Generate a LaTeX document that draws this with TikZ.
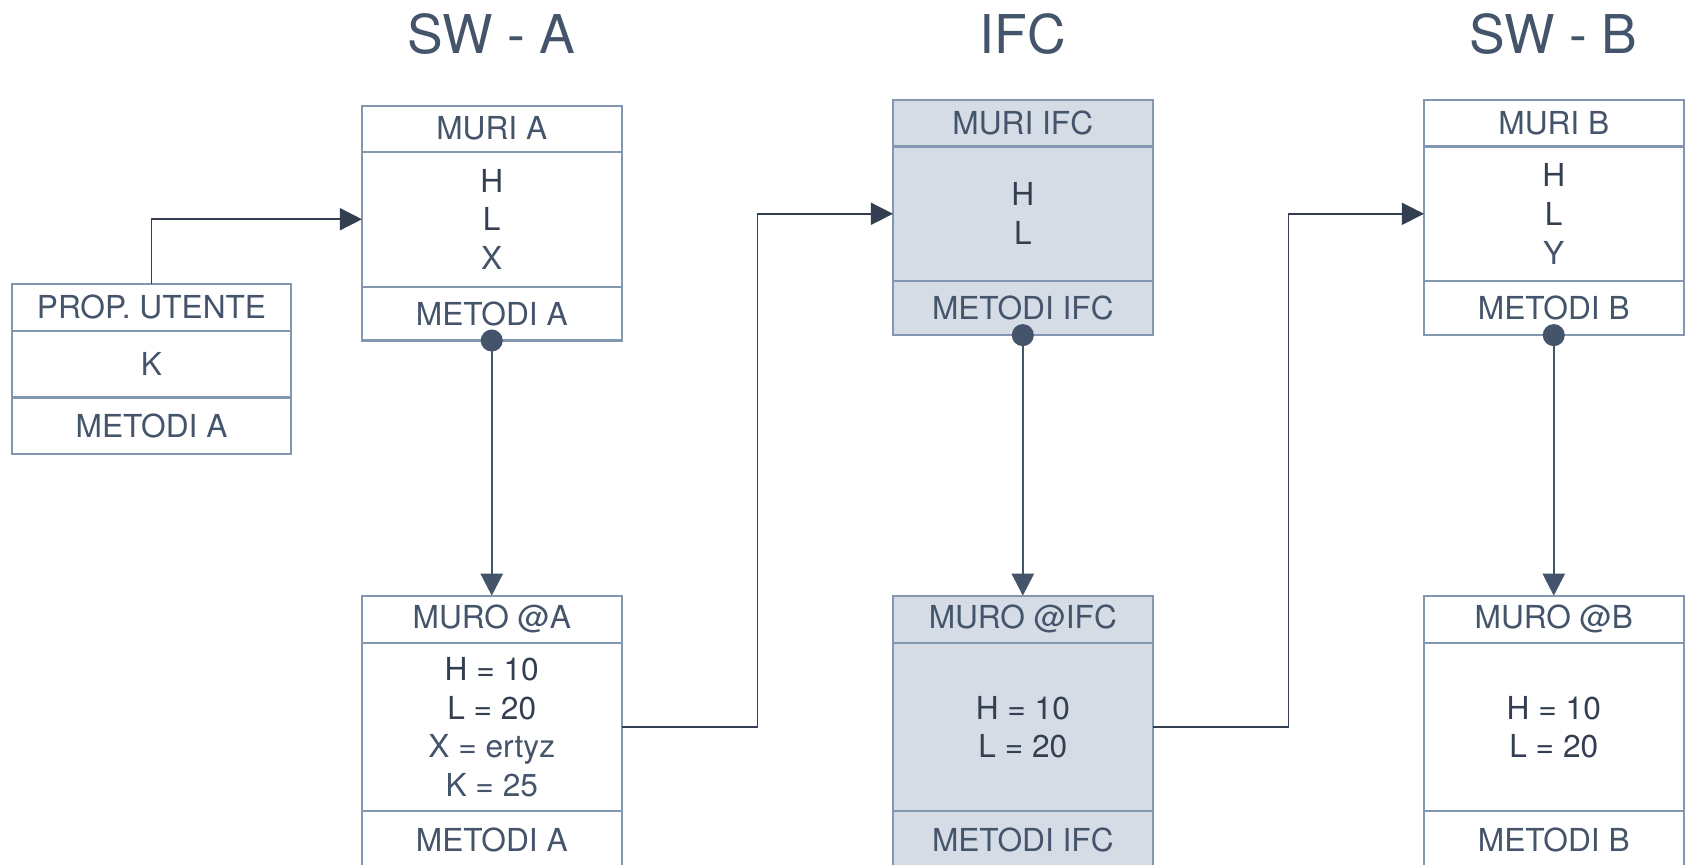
\documentclass[tikz,border=0pt]{standalone}
\usepackage{xcolor}
\usepackage{fontspec}
\setmainfont{TeX Gyre Heros}
\usepackage{tikz}
\usetikzlibrary{arrows.meta,positioning,calc}

\definecolor{boxline}{HTML}{8497B0}
\definecolor{ifcfill}{HTML}{D6DCE5}
\definecolor{txt}{HTML}{44546A}
\definecolor{txtdark}{HTML}{333F50}
\definecolor{wire}{HTML}{333F50}
\newcommand{\dk}[1]{{\color{txtdark}#1}}

\begin{document}
\begin{tikzpicture}[
  x=0.01cm, y=-0.01cm,
  >=Stealth,
  cell/.style={draw=boxline, line width=0.6pt, fill=#1,
               minimum width=2.595cm, inner sep=0pt, outer sep=0pt,
               align=center, text=txt, font=\fontsize{9}{11}\selectfont},
  title/.style={text=txt, font=\fontsize{15.2}{18}\selectfont},
  link/.style={-{Triangle[length=0.22cm,width=0.22cm]}, wire, line width=0.45pt},
  inst/.style={{Circle[length=0.22cm]}-{Triangle[length=0.22cm,width=0.22cm]},
               txt, line width=0.7pt, shorten <=-0.11cm},
]
\useasboundingbox[fill=white] (0,0) rectangle (1689,864);

%% ─── Column titles ────────────────────────────────────────────────────────────
\node[title] (swa) at (491.75,34.5) {SW - A};
\node[title] (ifc) at (1022.8,34.5) {IFC};
\node[title] (swb) at (1553.75,34.5) {SW - B};

%% ─── Classes ──────────────────────────────────────────────────────────────────
%% SW - A
\node[cell=white, minimum height=0.463cm] (muriA) at (491.75,128.75) {MURI A};
\node[cell=white, minimum height=1.346cm, below=0pt of muriA] (muriAatt)
  {\dk{H}\\\dk{L}\\X};
\node[cell=white, minimum height=0.539cm, below=0pt of muriAatt] (muriAmet) {METODI A};

%% user properties
\node[cell=white, minimum width=2.79cm, minimum height=0.467cm] (prop) at (151.5,307.35)
  {PROP. UTENTE};
\node[cell=white, minimum width=2.79cm, minimum height=0.668cm, below=0pt of prop] (propatt) {K};
\node[cell=white, minimum width=2.79cm, minimum height=0.56cm, below=0pt of propatt] (propmet)
  {METODI A};

%% IFC
\node[cell=ifcfill, minimum height=0.463cm] (muriIFC) at (1022.8,123.35) {MURI IFC};
\node[cell=ifcfill, minimum height=1.345cm, below=0pt of muriIFC] (muriIFCatt)
  {\dk{H}\\\dk{L}};
\node[cell=ifcfill, minimum height=0.54cm, below=0pt of muriIFCatt] (muriIFCmet) {METODI IFC};

%% SW - B
\node[cell=white, minimum height=0.463cm] (muriB) at (1553.75,123.35) {MURI B};
\node[cell=white, minimum height=1.345cm, below=0pt of muriB] (muriBatt)
  {\dk{H}\\\dk{L}\\Y};
\node[cell=white, minimum height=0.54cm, below=0pt of muriBatt] (muriBmet) {METODI B};

%% ─── Instances ────────────────────────────────────────────────────────────────
\node[cell=white, minimum height=0.473cm] (muroA) at (491.75,619.35) {MURO @A};
\node[cell=white, minimum height=1.68cm, below=0pt of muroA] (muroAatt)
  {\dk{H = 10}\\\dk{L = 20}\\X = ertyz\\K = 25};
\node[cell=white, minimum height=0.58cm, below=0pt of muroAatt] (muroAmet) {METODI A};

\node[cell=ifcfill, minimum height=0.473cm] (muroIFC) at (1022.8,619.35) {MURO @IFC};
\node[cell=ifcfill, minimum height=1.68cm, below=0pt of muroIFC] (muroIFCatt)
  {\dk{H = 10}\\\dk{L = 20}};
\node[cell=ifcfill, minimum height=0.58cm, below=0pt of muroIFCatt] (muroIFCmet) {METODI IFC};

\node[cell=white, minimum height=0.473cm] (muroB) at (1553.75,619.35) {MURO @B};
\node[cell=white, minimum height=1.68cm, below=0pt of muroB] (muroBatt)
  {\dk{H = 10}\\\dk{L = 20}};
\node[cell=white, minimum height=0.58cm, below=0pt of muroBatt] (muroBmet) {METODI B};

%% ─── Connectors ───────────────────────────────────────────────────────────────
\draw[link] (prop.north) |- (muriAatt.west);

\draw[inst] (muriAmet.south)   -- (muroA.north);
\draw[inst] (muriIFCmet.south) -- (muroIFC.north);
\draw[inst] (muriBmet.south)   -- (muroB.north);

\coordinate (midA) at ($(muroAatt.east)!0.5!(muriIFCatt.west)$);
\coordinate (midB) at ($(muroIFCatt.east)!0.5!(muriBatt.west)$);
\draw[link] (muroAatt.east) -| (midA) |- (muriIFCatt.west);
\draw[link] (muroIFCatt.east) -| (midB) |- (muriBatt.west);

\end{tikzpicture}
\end{document}
